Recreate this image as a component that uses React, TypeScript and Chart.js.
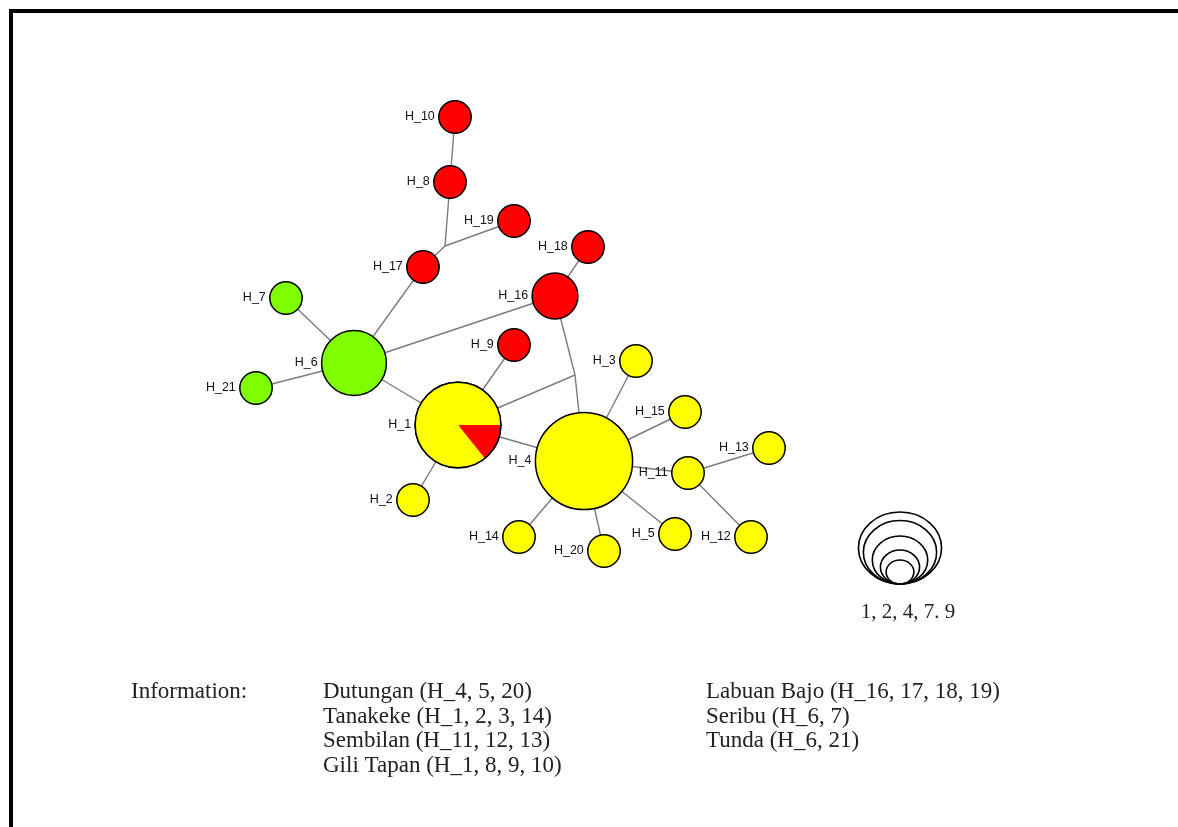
import React, { useEffect, useRef } from "react";
import { Chart, registerables } from "chart.js";

Chart.register(...registerables);

// ---- Data ----
const nodeNames = [
  "H_1", "H_2", "H_3", "H_4", "H_5", "H_6", "H_7", "H_8", "H_9", "H_10",
  "H_11", "H_12", "H_13", "H_14", "H_15", "H_16", "H_17", "H_18", "H_19", "H_20", "H_21",
];
const nodeX = [458, 413, 636, 584, 675, 354, 286, 450, 514, 455, 688, 751, 769, 519, 685, 555, 423, 588, 514, 604, 256];
const nodeY = [425, 500, 361, 461, 534, 363, 298, 182, 345, 117, 473, 537, 448, 537, 412, 296, 267, 247, 221, 551, 388];
const nodeCount = [7, 1, 1, 9, 1, 4, 1, 1, 1, 1, 1, 1, 1, 1, 1, 2, 1, 1, 1, 1, 1];
const nodeGroup = [
  "yellow", "yellow", "yellow", "yellow", "yellow", "green", "green", "red", "red", "red",
  "yellow", "yellow", "yellow", "yellow", "yellow", "red", "red", "red", "red", "yellow", "green",
];

// Mixed haplotype (pie)
const mixedNode = "H_1";
const mixedGroups = ["red", "yellow"];
const mixedCounts = [1, 6];

// Median vectors (junctions)
const junctionNames = ["J1", "J2"];
const junctionX = [445, 575];
const junctionY = [246, 375];

const edges: [string, string][] = [
  ["H_10", "H_8"], ["H_8", "J1"], ["J1", "H_17"], ["J1", "H_19"],
  ["H_17", "H_6"], ["H_7", "H_6"], ["H_21", "H_6"], ["H_6", "H_16"], ["H_6", "H_1"],
  ["H_16", "H_18"], ["H_16", "J2"], ["J2", "H_4"], ["H_1", "J2"],
  ["H_9", "H_1"], ["H_1", "H_4"], ["H_1", "H_2"],
  ["H_4", "H_3"], ["H_4", "H_15"], ["H_4", "H_11"], ["H_4", "H_5"], ["H_4", "H_20"], ["H_4", "H_14"],
  ["H_11", "H_13"], ["H_11", "H_12"],
];

const sizeLegendValues = [1, 2, 4, 7, 9];
const sizeLegendLabel = "1, 2, 4, 7. 9";

const infoTitle = "Information:";
const infoCol1 = [
  "Dutungan (H_4, 5, 20)",
  "Tanakeke (H_1, 2, 3, 14)",
  "Sembilan (H_11, 12, 13)",
  "Gili Tapan (H_1, 8, 9, 10)",
];
const infoCol2 = [
  "Labuan Bajo (H_16, 17, 18, 19)",
  "Seribu (H_6, 7)",
  "Tunda (H_6, 21)",
];

// ---- Styles ----
const W = 1178;
const H = 827;
const groupColor: Record<string, string> = {
  yellow: "#FFFF00",
  red: "#FF0000",
  green: "#80FF00",
};
const BASE_R = 16.2;
const radiusOf = (n: number) => BASE_R * Math.sqrt(n);

function posOf(name: string) {
  let i = nodeNames.indexOf(name);
  if (i >= 0) return { x: nodeX[i], y: nodeY[i] };
  i = junctionNames.indexOf(name);
  return { x: junctionX[i], y: junctionY[i] };
}

const overlayPlugin = {
  id: "overlay",
  beforeDraw(chart: any) {
    const ctx = chart.ctx;
    ctx.save();
    ctx.fillStyle = "#ffffff";
    ctx.fillRect(0, 0, W, H);
    ctx.fillStyle = "#000000";
    ctx.fillRect(9, 9, W - 9, 4);
    ctx.fillRect(9, 9, 4, H - 9);
    ctx.restore();
  },
  afterDatasetsDraw(chart: any) {
    const ctx = chart.ctx;
    const xs = chart.scales.x;
    const ys = chart.scales.y;
    ctx.save();
    // pie for mixed node
    const mi = nodeNames.indexOf(mixedNode);
    const cx = xs.getPixelForValue(nodeX[mi]);
    const cy = ys.getPixelForValue(nodeY[mi]);
    const r = radiusOf(nodeCount[mi]);
    const total = mixedCounts.reduce((a, b) => a + b, 0);
    let a0 = 0;
    mixedCounts.forEach((c, k) => {
      const a1 = a0 + (c / total) * Math.PI * 2;
      ctx.beginPath();
      ctx.moveTo(cx, cy);
      ctx.arc(cx, cy, r, a0, a1);
      ctx.closePath();
      ctx.fillStyle = groupColor[mixedGroups[k]];
      ctx.fill();
      a0 = a1;
    });
    ctx.beginPath();
    ctx.arc(cx, cy, r, 0, Math.PI * 2);
    ctx.strokeStyle = "#000";
    ctx.lineWidth = 1.5;
    ctx.stroke();

    // node labels
    ctx.font = '12.5px "Liberation Sans", Arial, sans-serif';
    ctx.fillStyle = "#111";
    ctx.textAlign = "right";
    ctx.textBaseline = "middle";
    nodeNames.forEach((n, i) => {
      const px = xs.getPixelForValue(nodeX[i]);
      const py = ys.getPixelForValue(nodeY[i]);
      ctx.fillText(n, px - radiusOf(nodeCount[i]) - 4, py);
    });

    // size legend (nested ellipses, bottom aligned)
    const lx = 900;
    const lb = 584;
    ctx.strokeStyle = "#000";
    ctx.lineWidth = 1.6;
    sizeLegendValues.forEach((v) => {
      const rx = 13.85 * Math.sqrt(v);
      const ry = 12 * Math.sqrt(v);
      ctx.beginPath();
      ctx.ellipse(lx, lb - ry, rx, ry, 0, 0, Math.PI * 2);
      ctx.stroke();
    });
    ctx.font = '21px "Liberation Serif", "Times New Roman", serif';
    ctx.fillStyle = "#222";
    ctx.textAlign = "center";
    ctx.textBaseline = "middle";
    ctx.fillText(sizeLegendLabel, 908, 612);

    // information text
    ctx.font = '23px "Liberation Serif", "Times New Roman", serif';
    ctx.textAlign = "left";
    ctx.fillText(infoTitle, 131, 692);
    infoCol1.forEach((t, k) => ctx.fillText(t, 323, 692 + k * 24.5));
    infoCol2.forEach((t, k) => ctx.fillText(t, 706, 692 + k * 24.5));
    ctx.restore();
  },
};

export default function App() {
  const ref = useRef<HTMLCanvasElement>(null);
  useEffect(() => {
    if (!ref.current) return;
    const edgeSets = edges.map(([a, b]) => {
      const pa = posOf(a);
      const pb = posOf(b);
      return {
        type: "line" as const,
        data: [pa, pb],
        borderColor: "#7c7c7c",
        borderWidth: 1.4,
        pointRadius: 0,
        showLine: true,
        fill: false,
        clip: false,
        order: 2,
      };
    });
    const nodeSet = {
      type: "scatter" as const,
      data: nodeNames.map((_, i) => ({ x: nodeX[i], y: nodeY[i] })),
      pointRadius: nodeCount.map((c) => radiusOf(c)),
      pointHoverRadius: nodeCount.map((c) => radiusOf(c)),
      backgroundColor: nodeGroup.map((g) => groupColor[g]),
      borderColor: "#000",
      borderWidth: 1.5,
      clip: false,
      order: 0,
    };
    const chart = new Chart(ref.current, {
      type: "scatter",
      data: { datasets: [nodeSet as any, ...(edgeSets as any[])] },
      options: {
        animation: false,
        responsive: false,
        devicePixelRatio: 1,
        layout: { padding: 0, autoPadding: false },
        events: [],
        scales: {
          x: { type: "linear", display: false, min: 0, max: W },
          y: { type: "linear", display: false, min: 0, max: H, reverse: true },
        },
        plugins: { legend: { display: false }, tooltip: { enabled: false } },
      },
      plugins: [overlayPlugin],
    });
    return () => chart.destroy();
  }, []);
  return (
    <div style={{ position: "fixed", left: 0, top: 0, width: W, height: H, background: "#fff" }}>
      <canvas ref={ref} width={W} height={H} style={{ display: "block", width: W, height: H }} />
    </div>
  );
}
